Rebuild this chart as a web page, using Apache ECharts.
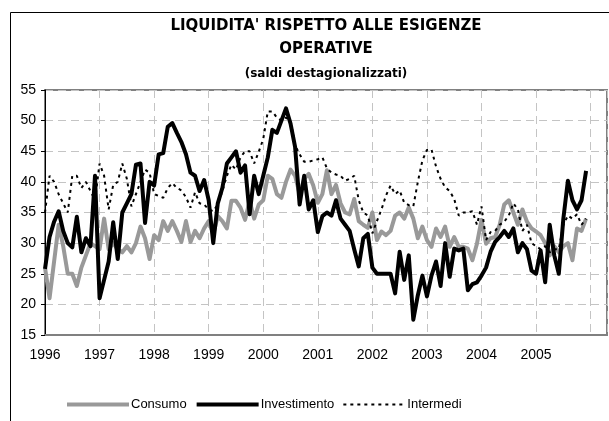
<!DOCTYPE html>
<html>
<head>
<meta charset="utf-8">
<script src="https://cdn.jsdelivr.net/npm/echarts@6/dist/echarts.min.js"></script>
<style>
  html, body { margin: 0; padding: 0; background: #fff; }
  #chart { width: 609px; height: 421px; }
</style>
</head>
<body>
<div id="chart"></div>
<script>
// ---- data (monthly, Jan 1996 - Dec 2005) ----
const startYear = 1996;
const yearTicks = [1996, 1997, 1998, 1999, 2000, 2001, 2002, 2003, 2004, 2005];
const seriesNames = ['Consumo', 'Investimento', 'Intermedi'];

const consumo = [
  26, 21, 27, 33, 29.5, 25, 25, 23, 26, 28, 30, 29.5,
  29, 34, 29, 30, 29, 28.5, 29.5, 28.5, 30, 32.7, 30.8, 27.4,
  31.3, 30.5, 33.6, 32, 33.6, 32, 30.2, 33.6, 30.2, 32, 30.8, 32.4,
  33.6, 31.5, 34.4, 33.6, 32.4, 36.9, 36.9, 35.8, 33.8, 36.9, 34, 36.3,
  37, 41, 40.5, 38, 37.4, 40, 42, 41, 38, 40.5, 41.3, 39.4,
  36.6, 38, 41.9, 38, 39.5, 36.5, 35, 34.7, 37.2, 33.6, 33, 32.5,
  35, 30.5, 31.9, 31.3, 32, 34.5, 35, 34, 35.8, 34, 30.8, 32.7,
  30.5, 29.4, 32.4, 31, 32.7, 29.4, 31, 29.4, 29.4, 29.1, 27.2, 29.9,
  33.8, 29.9, 30.8, 31, 33, 36.3, 37, 35, 33, 35.5, 33.5, 32.4,
  31.9, 31.3, 30, 28, 29.5, 28.5, 29.5, 30, 27.2, 32.4, 32, 34
];

const investimento = [
  25.8, 31, 33.5, 35.2, 32, 30, 29.3, 34.3, 28.5, 30.8, 29.5, 41,
  21, 24, 27, 33.4, 27.4, 35, 36.5, 38, 42.8, 43, 33.3, 40,
  39.4, 44.5, 44.7, 49, 49.6, 48, 46.5, 44.5, 41.5, 41, 38.5, 40.3,
  37, 30, 36.5, 39, 43, 44, 45, 41.5, 42.7, 34.7, 41, 38,
  41, 44, 48.5, 48, 50, 52, 49.5, 45.7, 36.3, 41, 35.5, 37,
  31.8, 34.4, 35, 34.5, 37, 34, 33, 32, 29, 26.2, 30.8, 31.5,
  26, 25, 25, 25, 25, 21.8, 28.6, 24, 28, 17.5, 21.5, 24.7,
  21.3, 24.7, 27, 23, 30, 24.5, 29.1, 28.8, 29.1, 22.3, 23.3, 23.6,
  24.7, 26, 28.6, 30.2, 31, 32, 31, 32.4, 28.5, 30, 29, 25.5,
  25, 28.8, 23.6, 33, 28, 25, 34, 40.2, 37, 35.5, 37, 41.8
];

const intermedi = [
  35, 41, 40, 38, 36.5, 35, 41, 41, 39, 40, 38.5, 37,
  43, 41, 35.5, 39.5, 40, 43, 40.5, 36, 38, 40, 42, 41.5,
  38, 37.7, 37.4, 39, 39.8, 39, 38.6, 37.5, 35.8, 38.3, 36.5, 36.3,
  35.5, 35.2, 36.3, 38.5, 41, 42.8, 42, 44, 45, 45, 43, 44.9,
  47, 51.5, 51.5, 50.5, 50, 50.5, 50, 46, 44.5, 43.3, 43.3, 43.5,
  43.7, 44, 42.2, 41.5, 41.2, 41, 40.2, 40.5, 41, 37, 35, 34.5,
  31.6, 33.6, 35.5, 37.8, 39.4, 38, 38.6, 36.6, 36.2, 36, 40, 43.5,
  45.2, 45.3, 42.5, 40.5, 39.1, 38.5, 37.2, 34.5, 35, 35, 35.2, 33,
  36, 30.5, 31.8, 32, 33, 33.5, 34.5, 36.5, 35.5, 32, 33, 30,
  29.5, 29, 29.5, 28.5, 29, 29, 33, 34.5, 34, 34.7, 33, 34
];

function toPoints(arr) {
  return arr.map((v, i) => [startYear + i / 12, v]);
}

const chart = echarts.init(document.getElementById('chart'), null, { renderer: 'canvas' });
const font = 'Liberation Sans, Arial, sans-serif';
const gridDash = { color: '#c4c4c4', width: 1, type: [8, 5] };

chart.setOption({
  backgroundColor: '#ffffff',
  animation: false,
  title: {
    text: "LIQUIDITA' RISPETTO ALLE ESIGENZE\nOPERATIVE",
    subtext: '(saldi destagionalizzati)',
    left: 326,
    top: 15,
    textAlign: 'center',
    padding: 0,
    itemGap: 6,
    textStyle: { fontFamily: 'DejaVu Sans, sans-serif', fontWeight: 'bold', fontSize: 15, lineHeight: 23, color: '#000' },
    subtextStyle: { fontFamily: 'DejaVu Sans, sans-serif', fontWeight: 'bold', fontSize: 12, lineHeight: 14, color: '#000' }
  },
  graphic: [{
    type: 'rect',
    z: -10,
    shape: { x: 10.5, y: 12.5, width: 700, height: 500 },
    style: { fill: 'none', stroke: '#000', lineWidth: 1 }
  }],
  legend: {
    left: 65,
    top: 398,
    itemWidth: 62,
    itemHeight: 14,
    itemGap: 8,
    padding: 0,
    data: seriesNames,
    itemStyle: { opacity: 0 },
    lineStyle: { width: 'inherit' },
    textStyle: { fontFamily: font, fontSize: 13, color: '#000', padding: [0, 0, 0, -3] }
  },
  grid: {
    left: 45, top: 90, right: 2, bottom: 86,
    show: true, borderColor: '#808080', borderWidth: 2, backgroundColor: '#fff'
  },
  xAxis: {
    type: 'value',
    min: yearTicks[0],
    max: 2006.3,
    interval: 1,
    axisLine: { show: true, lineStyle: { color: '#808080', width: 2 } },
    axisTick: { show: false },
    splitLine: { show: true, lineStyle: gridDash },
    axisLabel: {
      fontFamily: font, fontSize: 14, color: '#000', margin: 13,
      showMaxLabel: false,
      formatter: v => (yearTicks.indexOf(Math.round(v)) >= 0 && Math.abs(v - Math.round(v)) < 1e-6) ? String(Math.round(v)) : ''
    }
  },
  yAxis: {
    type: 'value',
    min: 15,
    max: 55,
    interval: 5,
    axisLine: { show: true, lineStyle: { color: '#000', width: 1 } },
    axisTick: { show: true, inside: false, length: 4, lineStyle: { color: '#000' } },
    splitLine: { show: true, lineStyle: gridDash },
    axisLabel: { fontFamily: font, fontSize: 14, color: '#000', margin: 9 }
  },
  series: [
    {
      name: seriesNames[0], type: 'line', data: toPoints(consumo),
      symbol: 'none', color: '#999999',
      lineStyle: { color: '#999999', width: 4, join: 'round' }, z: 2
    },
    {
      name: seriesNames[1], type: 'line', data: toPoints(investimento),
      symbol: 'none', color: '#000000',
      lineStyle: { color: '#000000', width: 4, join: 'round' }, z: 3
    },
    {
      name: seriesNames[2], type: 'line', data: toPoints(intermedi),
      symbol: 'none', color: '#000000',
      lineStyle: { color: '#000000', width: 2, type: [3, 4] }, z: 4
    }
  ]
});
</script>
</body>
</html>
